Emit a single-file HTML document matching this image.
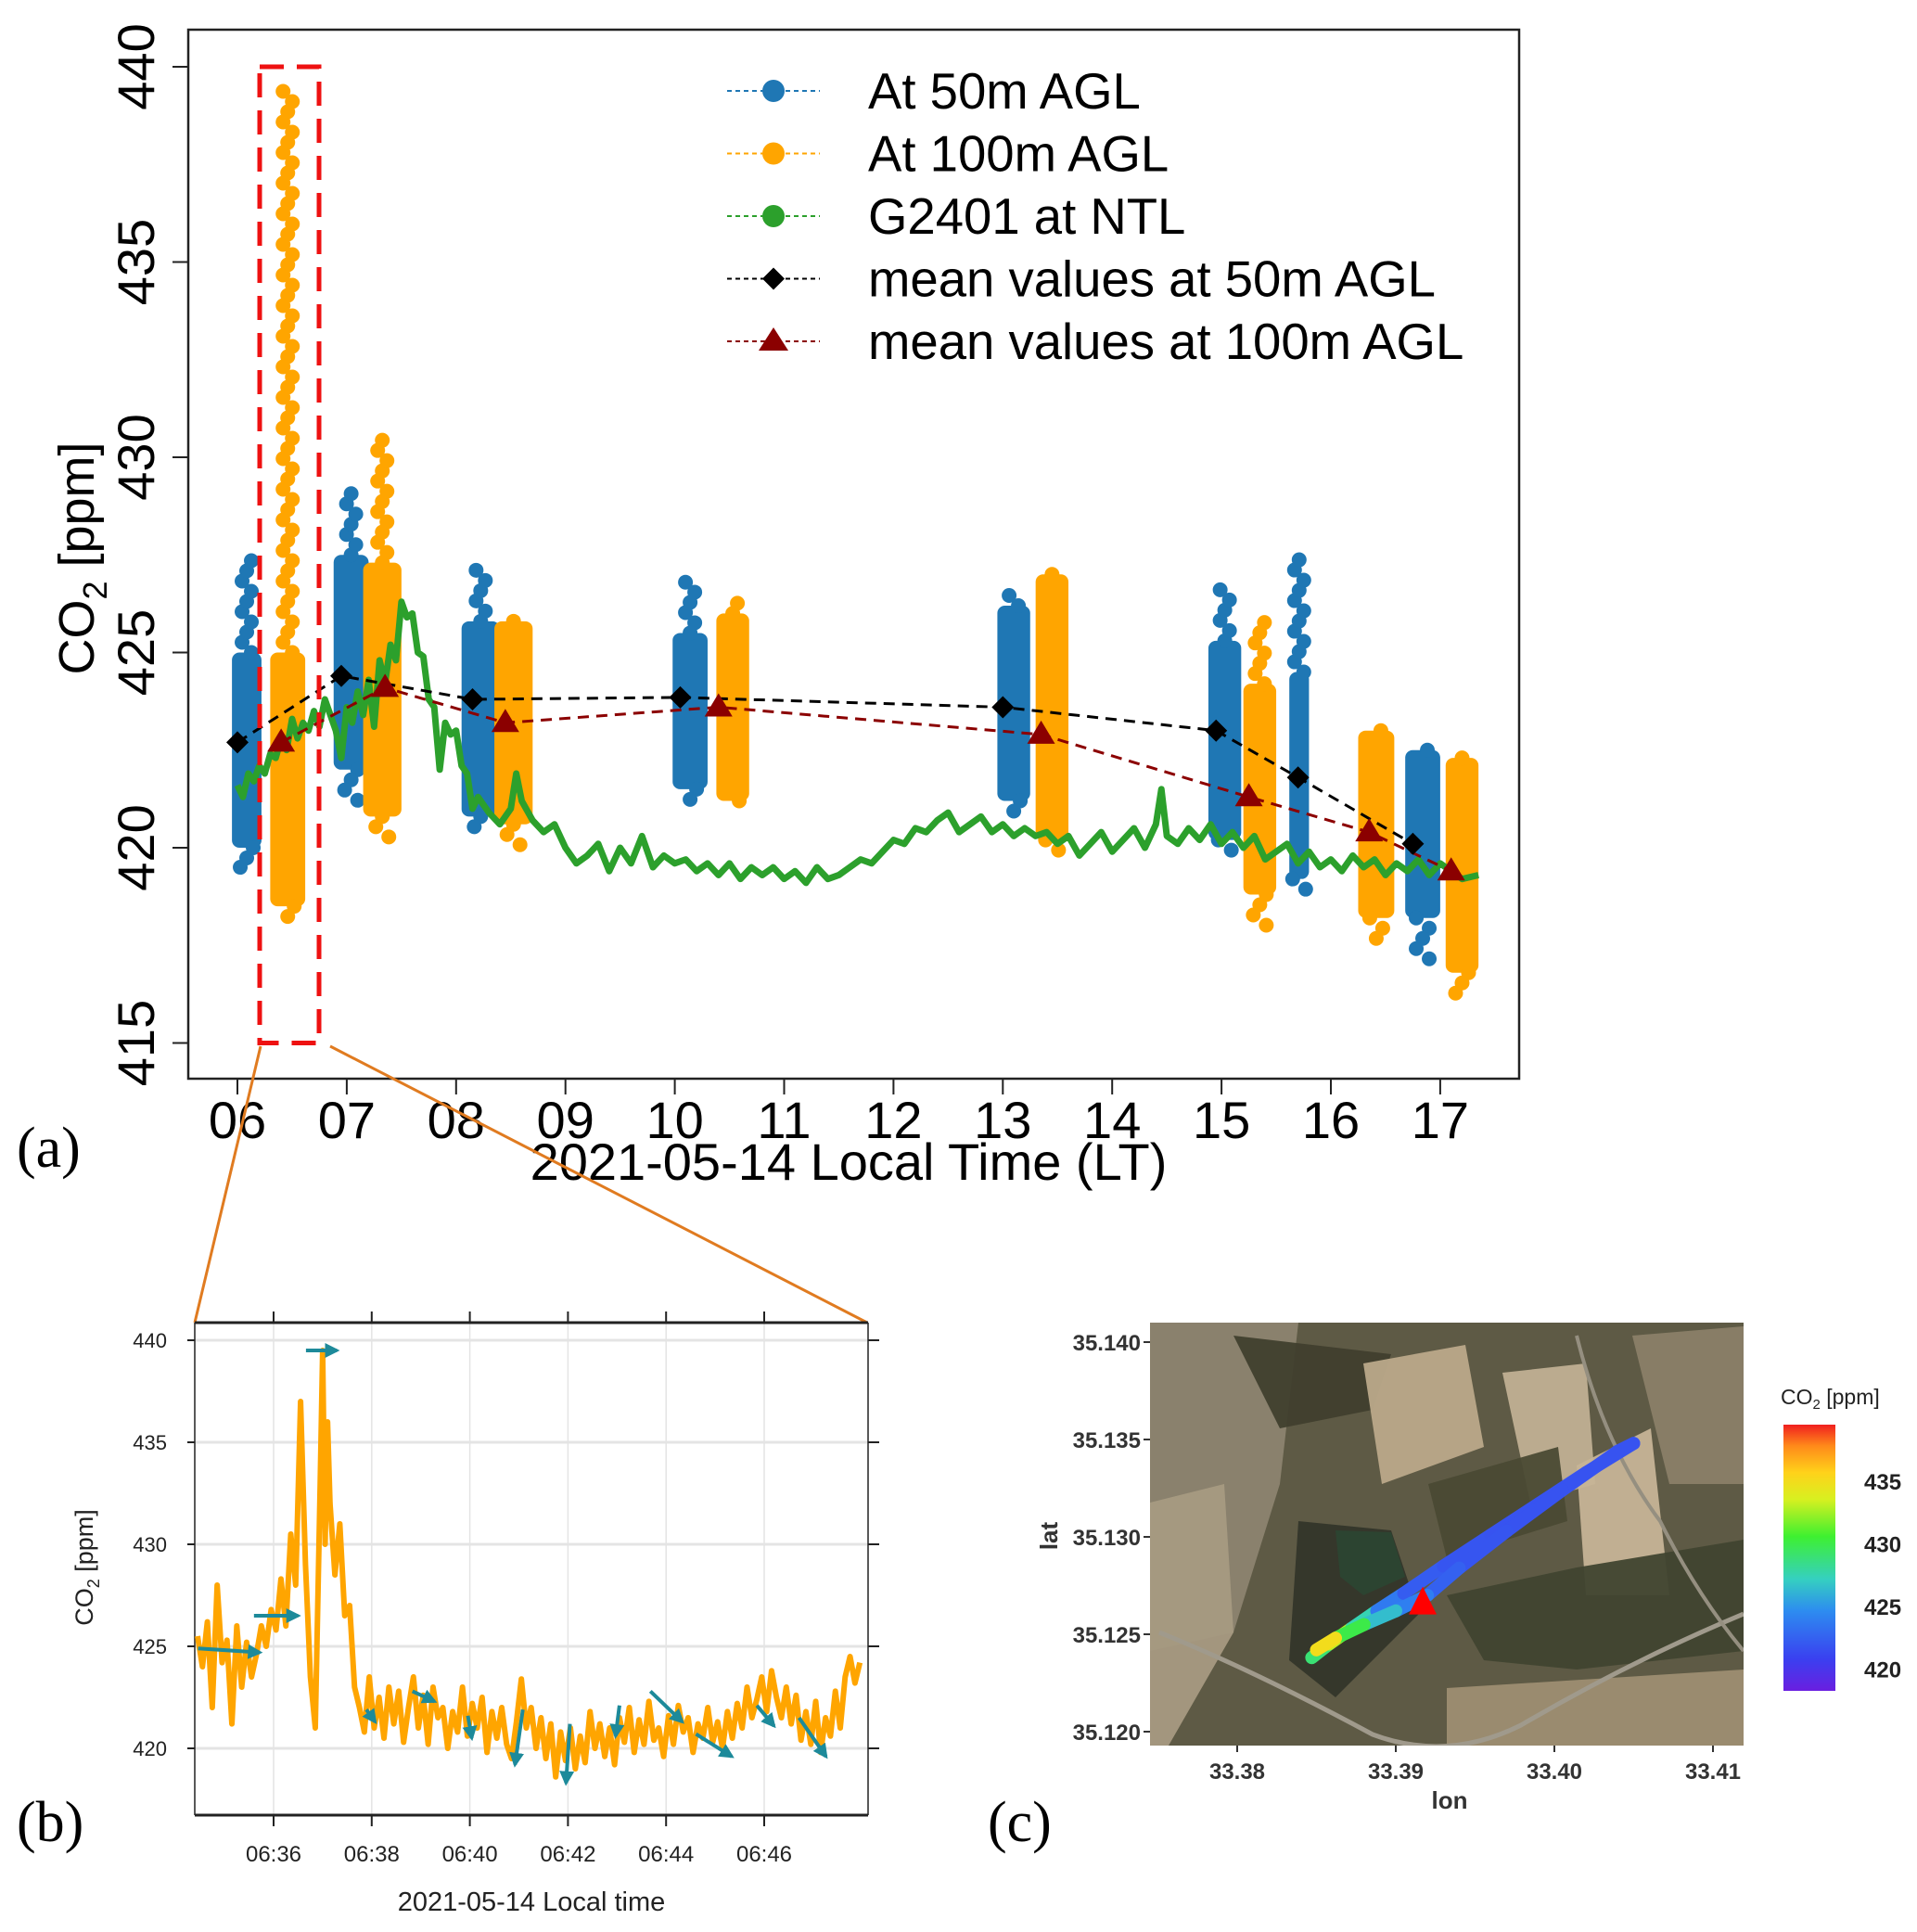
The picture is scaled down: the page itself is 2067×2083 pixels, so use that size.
<!DOCTYPE html>
<html><head><meta charset="utf-8"><style>
html,body{margin:0;padding:0;background:#fff}
svg{display:block;font-family:"Liberation Sans",Arial,sans-serif}
</style></head><body>
<svg id="fig" width="2067" height="2083" viewBox="0 0 2067 2083" xmlns="http://www.w3.org/2000/svg">
<defs>
<linearGradient id="cbar" x1="0" y1="1" x2="0" y2="0">
<stop offset="0" stop-color="#6a1fe0"/><stop offset="0.12" stop-color="#3a40f0"/><stop offset="0.3" stop-color="#2d8cf0"/><stop offset="0.42" stop-color="#35d0c0"/><stop offset="0.58" stop-color="#3ef030"/><stop offset="0.72" stop-color="#d8f020"/><stop offset="0.82" stop-color="#ffd21a"/><stop offset="0.92" stop-color="#ff8a1a"/><stop offset="1" stop-color="#f01f1f"/>
</linearGradient>
<clipPath id="mapclip"><rect x="1240" y="1426" width="640" height="456"/></clipPath>
<marker id="arr" viewBox="0 0 10 10" refX="8" refY="5" markerWidth="4" markerHeight="4" orient="auto"><path d="M0,0 L10,5 L0,10 z" fill="#1d8a9a"/></marker>
</defs>
<g id="panelA"></g>
<g id="panelB"></g>
<g id="panelC"></g>
</svg>
<script>
// ---------- Panel (a) data ----------
const hourTicks = [6,7,8,9,10,11,12,13,14,15,16,17];
const hourLabels = ["06","07","08","09","10","11","12","13","14","15","16","17"];
const ppmTicks = [415,420,425,430,435,440];
const f50Start = [5.95,6.88,8.05,9.98,12.95,14.88,15.62,16.68];
const f50End   = [6.22,7.2,8.4,10.3,13.25,15.18,15.8,17.0];
const f50CoreLo= [420.0,422.0,420.8,421.5,421.2,420.2,419.2,418.2];
const f50CoreHi= [425.0,427.5,425.8,425.5,426.2,425.3,424.5,422.5];
const f50Min   = [419.5,421.0,420.5,421.2,420.8,419.8,418.8,417.0];
const f50Max   = [427.4,429.1,427.2,426.8,426.6,426.7,427.5,422.7];
const f100Start= [6.3,7.15,8.35,10.38,13.3,15.2,16.25,17.05];
const f100End  = [6.62,7.5,8.7,10.68,13.6,15.5,16.58,17.35];
const f100CoreLo=[418.5,420.8,420.6,421.2,420.2,418.8,418.2,416.8];
const f100CoreHi=[425.0,427.3,425.8,426.0,427.0,424.2,423.0,422.3];
const f100Min  = [418.2,420.1,420.0,421.0,419.9,417.8,417.6,416.2];
const f100Max  = [439.5,430.6,425.9,426.3,427.1,426.0,423.0,422.5];
const mean50T  = [6.0,6.95,8.15,10.05,13.0,14.95,15.7,16.75];
const mean50V  = [422.7,424.4,423.8,423.85,423.6,423.0,421.8,420.1];
const mean100T = [6.4,7.35,8.45,10.4,13.35,15.25,16.35,17.1];
const mean100V = [422.7,424.1,423.2,423.6,422.9,421.3,420.4,419.4];
const g24T = [6.0,6.05,6.1,6.15,6.2,6.25,6.3,6.35,6.4,6.45,6.5,6.55,6.6,6.65,6.7,6.75,6.8,6.85,6.9,6.95,7.0,7.05,7.1,7.15,7.2,7.25,7.3,7.35,7.4,7.45,7.5,7.55,7.6,7.65,7.7,7.75,7.8,7.85,7.9,7.95,8.0,8.05,8.1,8.15,8.2,8.3,8.4,8.5,8.55,8.6,8.7,8.8,8.9,9.0,9.1,9.2,9.3,9.4,9.5,9.6,9.7,9.8,9.9,10.0,10.1,10.2,10.3,10.4,10.5,10.6,10.7,10.8,10.9,11.0,11.1,11.2,11.3,11.4,11.5,11.6,11.7,11.8,11.9,12.0,12.1,12.2,12.3,12.4,12.5,12.6,12.7,12.8,12.9,13.0,13.1,13.2,13.3,13.4,13.5,13.6,13.7,13.8,13.9,14.0,14.1,14.2,14.3,14.4,14.45,14.5,14.6,14.7,14.8,14.9,15.0,15.1,15.2,15.3,15.4,15.5,15.6,15.7,15.8,15.9,16.0,16.1,16.2,16.3,16.4,16.5,16.6,16.7,16.8,16.9,17.0,17.1,17.2,17.35];
const g24V = [421.6,421.3,421.9,421.7,422.1,421.9,422.4,422.3,422.8,422.5,423.3,422.8,423.2,423.0,423.5,423.1,423.8,423.4,423.0,422.3,423.6,423.2,424.0,423.4,424.3,423.1,424.8,424.2,425.2,424.8,426.3,425.9,426.0,425.0,424.9,423.8,423.6,422.0,423.2,422.9,423.0,422.1,421.9,421.0,421.3,420.9,420.6,421.0,421.9,421.2,420.7,420.4,420.6,420.0,419.6,419.8,420.1,419.4,420.0,419.6,420.3,419.5,419.8,419.6,419.7,419.4,419.6,419.3,419.6,419.2,419.5,419.3,419.5,419.2,419.4,419.1,419.5,419.2,419.3,419.5,419.7,419.6,419.9,420.2,420.1,420.5,420.4,420.7,420.9,420.4,420.6,420.8,420.4,420.6,420.3,420.5,420.3,420.4,420.1,420.3,419.8,420.1,420.4,419.9,420.2,420.5,420.0,420.6,421.5,420.3,420.1,420.5,420.2,420.6,420.1,420.4,420.0,420.3,419.7,419.9,420.1,419.6,419.9,419.5,419.7,419.4,419.8,419.5,419.7,419.3,419.6,419.4,419.7,419.3,419.6,419.4,419.2,419.3];

// ---------- Panel (b) data ----------
const bTicks = [36,38,40,42,44,46];
const bTickLabels = ["06:36","06:38","06:40","06:42","06:44","06:46"];
const bPpmTicks = [420,425,430,435,440];
const bT = [34.45,34.55,34.65,34.75,34.85,34.95,35.05,35.15,35.25,35.35,35.45,35.55,35.65,35.75,35.85,35.95,36.05,36.15,36.25,36.35,36.45,36.55,36.65,36.75,36.85,36.95,37.0,37.05,37.1,37.15,37.25,37.35,37.45,37.55,37.65,37.75,37.85,37.95,38.05,38.15,38.25,38.35,38.45,38.55,38.65,38.75,38.85,38.95,39.05,39.15,39.25,39.35,39.45,39.55,39.65,39.75,39.85,39.95,40.05,40.15,40.25,40.35,40.45,40.55,40.65,40.75,40.85,40.95,41.05,41.15,41.25,41.35,41.45,41.55,41.65,41.75,41.85,41.95,42.05,42.15,42.25,42.35,42.45,42.55,42.65,42.75,42.85,42.95,43.05,43.15,43.25,43.35,43.45,43.55,43.65,43.75,43.85,43.95,44.05,44.15,44.25,44.35,44.45,44.55,44.65,44.75,44.85,44.95,45.05,45.15,45.25,45.35,45.45,45.55,45.65,45.75,45.85,45.95,46.05,46.15,46.25,46.35,46.45,46.55,46.65,46.75,46.85,46.95,47.05,47.15,47.25,47.35,47.45,47.55,47.65,47.75,47.85,47.95];
const bV = [425.5,424.0,426.2,422.0,428.0,424.2,425.3,421.2,426.0,423.0,425.2,423.5,424.6,426.0,425.0,426.8,425.8,428.3,426.0,430.5,428.0,437.0,429.0,423.5,421.0,433.0,439.5,430.0,436.0,432.0,428.5,431.0,426.5,427.0,423.0,422.0,420.8,423.5,421.0,422.5,420.5,423.0,421.2,422.8,420.3,422.0,423.5,421.0,422.6,420.2,423.0,421.5,422.0,420.0,421.8,420.8,423.0,420.6,422.2,421.0,422.5,419.8,421.8,420.5,422.0,420.2,419.5,421.3,423.4,421.0,422.0,420.0,421.5,419.5,421.2,418.6,420.8,419.4,421.0,419.0,420.6,419.3,421.8,420.0,421.2,419.6,421.0,419.2,421.5,420.3,422.0,419.8,421.4,420.2,422.3,420.4,421.0,419.6,421.6,420.2,422.1,420.8,421.5,419.8,421.2,420.5,422.0,420.3,421.3,420.0,421.8,420.5,422.2,421.0,423.0,421.5,422.4,423.5,421.8,423.8,422.5,421.5,423.0,421.2,422.6,420.4,421.8,420.2,422.3,419.8,421.5,420.6,422.8,421.0,423.5,424.5,423.2,424.2];
const arrT0 = [34.46,35.6,36.66,37.89,38.83,39.96,41.08,42.04,43.05,43.68,44.61,45.85,46.71];
const arrV0 = [424.9,426.5,439.5,421.9,422.8,421.6,421.9,421.2,422.1,422.8,420.7,422.1,421.5];
const arrT1 = [35.72,36.5,37.29,38.07,39.28,40.04,40.92,41.96,42.97,44.33,45.34,46.2,47.26];
const arrV1 = [424.7,426.5,439.5,421.3,422.3,420.5,419.2,418.3,420.6,421.3,419.6,421.1,419.6];

// ---------- Panel (c) data ----------
const lonTicks = [33.38,33.39,33.40,33.41];
const latTicks = [35.120,35.125,35.130,35.135,35.140];
const cbTicks = [420,425,430,435];
const trackLon = [33.3847,33.3858,33.3872,33.3888,33.3905,33.3930,33.3960,33.3990,33.4020,33.4050,33.4040,33.4005,33.3970,33.3940,33.3920,33.3900,33.3880,33.3862,33.3850];
const trackLat = [35.1238,35.1245,35.1253,35.1262,35.1271,35.1285,35.1301,35.1317,35.1333,35.1348,35.1344,35.1324,35.1303,35.1284,35.1270,35.1262,35.1255,35.1248,35.1242];
const trackCO2 = [422,436,430,425,422.5,422,421.8,421.8,421.8,421.8,421.8,421.8,421.8,422,423,425,428,432,438];
const stationLon = [33.3917];
const stationLat = [35.1264];

// ---------- helpers ----------
const NS="http://www.w3.org/2000/svg";
function mk(parent, tag, attrs, text){const e=document.createElementNS(NS,tag);for(const k in attrs)e.setAttribute(k,attrs[k]);if(text!==undefined)e.textContent=text;parent.appendChild(e);return e;}

// ---------- Panel (a) ----------
const A=document.getElementById('panelA');
const ax={l:203,r:1638,t:32,b:1163};
const xA=h=>256+(h-6)*117.9;
const yA=v=>72+(440-v)*42.1;
let el;
el=mk(A,'rect',{x:ax.l,y:ax.t,width:ax.r-ax.l,height:ax.b-ax.t,fill:'none',stroke:'#222','stroke-width':2.5});


hourTicks.forEach((h,i)=>{
  el=mk(A,'line',{x1:xA(h),x2:xA(h),y1:ax.b,y2:ax.b+17,stroke:'#222','stroke-width':2});
  
  
  el=mk(A,'text',{x:xA(h),y:1227,'font-size':56,'text-anchor':'middle',fill:'#000'},hourLabels[i]);
  
  
});
ppmTicks.forEach(v=>{
  el=mk(A,'line',{x1:ax.l-17,x2:ax.l,y1:yA(v),y2:yA(v),stroke:'#222','stroke-width':2});
  
  
  el=mk(A,'text',{x:0,y:0,'font-size':56,'text-anchor':'middle',fill:'#000',transform:`translate(166,${yA(v)}) rotate(-90)`},String(v));
  
  
});
el=mk(A,'text',{x:0,y:0,'font-size':54,'text-anchor':'middle',fill:'#000',transform:'translate(101,602) rotate(-90)'});


el.innerHTML='CO<tspan font-size="36" dy="14">2</tspan><tspan dy="-14"> [ppm]</tspan>';
el=mk(A,'text',{x:915,y:1272,'font-size':56,'text-anchor':'middle',fill:'#000'},'2021-05-14 Local Time (LT)');


el=mk(A,'text',{x:18,y:1258,'font-size':62,fill:'#000','font-family':'Liberation Serif, serif'},'(a)');



function cluster(g,x0,x1,lo,hi,mn,mx,col){
  const r=8;
  mk(g,'rect',{x:x0,y:yA(hi),width:Math.max(4,x1-x0),height:yA(lo)-yA(hi),rx:r,fill:col});
  const cx=(x0+x1)/2;
  for(let y=yA(hi);y>yA(mx)-1;y-=11){mk(g,'circle',{cx:cx+((Math.round(y)%3)-1)*5,cy:Math.max(y,yA(mx)),r:r,fill:col});}
  for(let y=yA(lo);y<yA(mn)+1;y+=11){mk(g,'circle',{cx:cx+((Math.round(y)%3)-1)*7,cy:Math.min(y,yA(mn)),r:r,fill:col});}
}
const s50=mk(A,'g',{});


f50Start.forEach((s,i)=>cluster(s50,xA(s),xA(f50End[i]),f50CoreLo[i],f50CoreHi[i],f50Min[i],f50Max[i],'#1f77b4'));
const s100=mk(A,'g',{});


f100Start.forEach((s,i)=>cluster(s100,xA(s),xA(f100End[i]),f100CoreLo[i],f100CoreHi[i],f100Min[i],f100Max[i],'#ffa500'));
el=mk(A,'polyline',{points:g24T.map((t,i)=>xA(t)+','+yA(g24V[i])).join(' '),fill:'none',stroke:'#2ca02c','stroke-width':7,'stroke-linejoin':'round'});


el=mk(A,'polyline',{points:mean50T.map((t,i)=>xA(t)+','+yA(mean50V[i])).join(' '),fill:'none',stroke:'#000','stroke-width':3,'stroke-dasharray':'12 8'});


el=mk(A,'polyline',{points:mean100T.map((t,i)=>xA(t)+','+yA(mean100V[i])).join(' '),fill:'none',stroke:'#8b0000','stroke-width':3,'stroke-dasharray':'12 8'});


mean50T.forEach((t,i)=>{const x=xA(t),y=yA(mean50V[i]);
  el=mk(A,'path',{d:`M${x},${y-12} L${x+12},${y} L${x},${y+12} L${x-12},${y} Z`,fill:'#000'});
  
  });
mean100T.forEach((t,i)=>{const x=xA(t),y=yA(mean100V[i]);
  el=mk(A,'path',{d:`M${x},${y-15} L${x+15},${y+10} L${x-15},${y+10} Z`,fill:'#8b0000'});
  
  });
el=mk(A,'rect',{x:280,y:yA(440),width:64,height:yA(415)-yA(440),fill:'none',stroke:'#ee1111','stroke-width':5,'stroke-dasharray':'26 14'});


const leg=[['At 50m AGL','#1f77b4','c'],['At 100m AGL','#ffa500','c'],['G2401 at NTL','#2ca02c','c'],['mean values at 50m AGL','#000','d'],['mean values at 100m AGL','#8b0000','t']];
leg.forEach((L,i)=>{const y=98+i*67.5;
  const g=mk(A,'g',{});
  
  
  mk(g,'line',{x1:784,x2:884,y1:y,y2:y,stroke:L[1],'stroke-width':2,'stroke-dasharray':'5 4'});
  if(L[2]=='c')mk(g,'circle',{cx:834,cy:y,r:12,fill:L[1]});
  if(L[2]=='d')mk(g,'path',{d:`M834,${y-12} L846,${y} L834,${y+12} L822,${y} Z`,fill:L[1]});
  if(L[2]=='t')mk(g,'path',{d:`M834,${y-15} L850,${y+10} L818,${y+10} Z`,fill:L[1]});
  mk(g,'text',{x:936,y:y+19,'font-size':54.5,fill:'#000'},L[0]);
});
el=mk(A,'line',{x1:281,y1:1128,x2:210,y2:1426,stroke:'#e07b20','stroke-width':3});


el=mk(A,'line',{x1:356,y1:1128,x2:935,y2:1426,stroke:'#e07b20','stroke-width':3});



// ---------- Panel (b) ----------
const B=document.getElementById('panelB');
const bx={l:210,r:936,t:1426,b:1957};
const xB=m=>295+(m-36)*52.9;
const yB=v=>1445+(440-v)*22;
bTicks.forEach((m,i)=>{
  el=mk(B,'line',{x1:xB(m),x2:xB(m),y1:bx.t,y2:bx.b,stroke:'#e4e4e4','stroke-width':1.5});
  
  
  mk(B,'line',{x1:xB(m),x2:xB(m),y1:bx.t-12,y2:bx.t,stroke:'#222','stroke-width':2});
  mk(B,'line',{x1:xB(m),x2:xB(m),y1:bx.b,y2:bx.b+12,stroke:'#222','stroke-width':2});
  el=mk(B,'text',{x:xB(m),y:2007,'font-size':24,'text-anchor':'middle',fill:'#222'},bTickLabels[i]);
  
  
});
bPpmTicks.forEach(v=>{
  el=mk(B,'line',{x1:bx.l,x2:bx.r,y1:yB(v),y2:yB(v),stroke:'#e4e4e4','stroke-width':3});
  
  
  mk(B,'line',{x1:bx.l-8,x2:bx.l,y1:yB(v),y2:yB(v),stroke:'#222','stroke-width':2});
  mk(B,'line',{x1:bx.r,x2:bx.r+12,y1:yB(v),y2:yB(v),stroke:'#222','stroke-width':2});
  el=mk(B,'text',{x:180,y:yB(v)+8,'font-size':22,'text-anchor':'end',fill:'#222'},String(v));
  
  
});
mk(B,'line',{x1:bx.l,x2:bx.r,y1:bx.t,y2:bx.t,stroke:'#222','stroke-width':3});
mk(B,'line',{x1:bx.l,x2:bx.r,y1:bx.b,y2:bx.b,stroke:'#222','stroke-width':3});
mk(B,'line',{x1:bx.l,x2:bx.l,y1:bx.t,y2:bx.b,stroke:'#222','stroke-width':1.5});
mk(B,'line',{x1:bx.r,x2:bx.r,y1:bx.t,y2:bx.b,stroke:'#222','stroke-width':1.5});
el=mk(B,'polyline',{points:bT.map((t,i)=>xB(t)+','+yB(bV[i])).join(' '),fill:'none',stroke:'#ffa500','stroke-width':6,'stroke-linejoin':'round'});


arrT0.forEach((t,i)=>{
  el=mk(B,'line',{x1:xB(t),y1:yB(arrV0[i]),x2:xB(arrT1[i]),y2:yB(arrV1[i]),stroke:'#1d8a9a','stroke-width':4,'marker-end':'url(#arr)'});
  
  
});
el=mk(B,'text',{x:0,y:0,'font-size':27,'text-anchor':'middle',fill:'#222',transform:'translate(100,1690) rotate(-90)'});


el.innerHTML='CO<tspan font-size="18" dy="7">2</tspan><tspan dy="-7"> [ppm]</tspan>';
el=mk(B,'text',{x:573,y:2060,'font-size':29,'text-anchor':'middle',fill:'#222'},'2021-05-14 Local time');


el=mk(B,'text',{x:18,y:1985,'font-size':62,fill:'#000','font-family':'Liberation Serif, serif'},'(b)');



// ---------- Panel (c) ----------
const C=document.getElementById('panelC');
const xC=lon=>1334+(lon-33.38)*17100;
const yC=lat=>1447+(35.140-lat)*21000;
const map=mk(C,'g',{'clip-path':'url(#mapclip)'});


mk(map,'rect',{x:1240,y:1426,width:640,height:456,fill:'#5e5a45'});
const patches=[
 ['#8c8470','M1240,1426 L1400,1426 L1380,1600 L1330,1760 L1240,1780 Z'],
 ['#a69a82','M1240,1620 L1320,1600 L1330,1760 L1260,1882 L1240,1882 Z'],
 ['#403f2e','M1330,1440 L1500,1460 L1480,1520 L1380,1540 Z'],
 ['#bba98a','M1470,1470 L1580,1450 L1600,1560 L1490,1600 Z'],
 ['#c0b093','M1620,1480 L1710,1470 L1720,1600 L1650,1620 Z'],
 ['#c6b497','M1700,1580 L1780,1540 L1800,1720 L1710,1720 Z'],
 ['#33362a','M1400,1640 L1500,1650 L1530,1740 L1440,1830 L1390,1790 Z'],
 ['#2c4532','M1440,1650 L1500,1652 L1515,1700 L1470,1720 L1445,1700 Z'],
 ['#404430','M1560,1720 L1700,1690 L1880,1660 L1880,1780 L1700,1800 L1600,1790 Z'],
 ['#9d8e72','M1560,1820 L1880,1800 L1880,1882 L1560,1882 Z'],
 ['#8a8068','M1760,1440 L1880,1430 L1880,1600 L1800,1600 Z'],
 ['#4a4a34','M1540,1600 L1680,1560 L1690,1640 L1560,1680 Z']
];
patches.forEach(p=>mk(map,'path',{d:p[1],fill:p[0],opacity:0.95}));
mk(map,'path',{d:'M1250,1760 Q1350,1800 1480,1870 Q1560,1900 1640,1860 Q1760,1790 1880,1740',fill:'none',stroke:'#a09a8c','stroke-width':5});
mk(map,'path',{d:'M1700,1440 Q1730,1560 1790,1640 Q1830,1720 1880,1780',fill:'none',stroke:'#958f80','stroke-width':4});
const tr=mk(C,'g',{});


function cbColor(v){const f=Math.max(0,Math.min(1,(v-418.3)/21.2));
  const stops=[[0,[106,31,224]],[0.12,[58,64,240]],[0.3,[45,140,240]],[0.42,[53,208,192]],[0.58,[62,240,48]],[0.72,[216,240,32]],[0.82,[255,210,26]],[0.92,[255,138,26]],[1,[240,31,31]]];
  for(let i=1;i<stops.length;i++){if(f<=stops[i][0]){const a=stops[i-1],b=stops[i],k=(f-a[0])/(b[0]-a[0]);return 'rgb('+a[1].map((c,j)=>Math.round(c+(b[1][j]-c)*k)).join(',')+')';}}return 'rgb(240,31,31)';}
for(let i=1;i<trackLon.length;i++){
  mk(tr,'line',{x1:xC(trackLon[i-1]),y1:yC(trackLat[i-1]),x2:xC(trackLon[i]),y2:yC(trackLat[i]),stroke:cbColor((trackCO2[i-1]+trackCO2[i])/2),'stroke-width':14,'stroke-linecap':'round'});
}
const sx=xC(stationLon[0]),sy=yC(stationLat[0]);
el=mk(C,'path',{d:`M${sx},${sy-22} L${sx+15},${sy+8} L${sx-15},${sy+8} Z`,fill:'#ff0000'});


lonTicks.forEach(l=>{
  mk(C,'line',{x1:xC(l),x2:xC(l),y1:1882,y2:1889,stroke:'#333','stroke-width':2});
  el=mk(C,'text',{x:xC(l),y:1918,'font-size':24,'font-weight':'bold','text-anchor':'middle',fill:'#333'},l.toFixed(2));
  
  
});
latTicks.forEach(l=>{
  mk(C,'line',{x1:1233,x2:1240,y1:yC(l),y2:yC(l),stroke:'#333','stroke-width':2});
  el=mk(C,'text',{x:1230,y:yC(l)+9,'font-size':24,'font-weight':'bold','text-anchor':'end',fill:'#333'},l.toFixed(3));
  
  
});
el=mk(C,'text',{x:1563,y:1950,'font-size':26,'font-weight':'bold','text-anchor':'middle',fill:'#333'},'lon');


el=mk(C,'text',{x:0,y:0,'font-size':26,'font-weight':'bold','text-anchor':'middle',fill:'#333',transform:'translate(1140,1656) rotate(-90)'},'lat');


el=mk(C,'rect',{x:1923,y:1536,width:56,height:287,fill:'url(#cbar)'});


const yCB=v=>1597+(435-v)*13.5;
cbTicks.forEach(v=>{
  el=mk(C,'text',{x:2010,y:yCB(v)+9,'font-size':24,'font-weight':'bold',fill:'#222'},String(v));
  
  
});
el=mk(C,'text',{x:1920,y:1514,'font-size':23,fill:'#222'});


el.innerHTML='CO<tspan font-size="15" dy="5">2</tspan><tspan dy="-5"> [ppm]</tspan>';
el=mk(C,'text',{x:1065,y:1985,'font-size':62,fill:'#000','font-family':'Liberation Serif, serif'},'(c)');


</script>
</body></html>
